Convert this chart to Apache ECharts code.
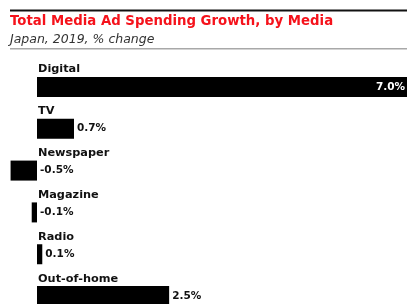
<!DOCTYPE html>
<html>
<head>
<meta charset="utf-8">
<script src="https://cdn.jsdelivr.net/npm/echarts@6/dist/echarts.min.js"></script>
<style>
  html, body { margin: 0; padding: 0; background: #fff; overflow: hidden; }
  #chart { width: 407px; height: 304px; }
</style>
</head>
<body>
<div id="chart"></div>
<script>
const categories = ['Digital', 'TV', 'Newspaper', 'Magazine', 'Radio', 'Out-of-home'];
const values = [7.0, 0.7, -0.5, -0.1, 0.1, 2.5];
const titleText = 'Total Media Ad Spending Growth, by Media';
const subtitleText = 'Japan, 2019, % change';

const maxValue = Math.max(...values);
// biggest bar carries its label inside, in white
const barData = values.map(function (v) {
    if (v === maxValue) {
        return { value: v, label: { position: 'insideRight', color: '#fff', distance: 2 } };
    }
    return v;
});

const chart = echarts.init(document.querySelector('#chart'), null, { renderer: 'canvas' });
chart.setOption({
    animation: false,
    title: {
        text: titleText,
        subtext: subtitleText,
        left: 10,
        top: 15,
        itemGap: 5,
        padding: 0,
        textStyle: {
            fontFamily: 'DejaVu Sans',
            fontSize: 13.3,
            fontWeight: 'bold',
            color: '#f5121b'
        },
        subtextStyle: {
            fontFamily: 'DejaVu Sans',
            fontSize: 12.5,
            fontStyle: 'italic',
            color: '#333'
        }
    },
    graphic: [
        { type: 'rect', shape: { x: 10, y: 9.5, width: 400, height: 2 }, style: { fill: '#111' } },
        { type: 'rect', shape: { x: 10, y: 48, width: 400, height: 1.5 }, style: { fill: '#a8a8a8' } }
    ],
    grid: { left: 0, right: 0, top: 66, height: 251, outerBoundsMode: 'none' },
    xAxis: {
        type: 'value',
        min: -0.7,
        max: 7.0,
        show: false
    },
    yAxis: {
        type: 'category',
        data: categories,
        inverse: true,
        axisLine: { show: false },
        axisTick: { show: false },
        axisLabel: {
            inside: true,
            margin: 38,
            verticalAlign: 'bottom',
            padding: [0, 0, 12, 0],
            fontFamily: 'DejaVu Sans',
            fontSize: 11.3,
            fontWeight: 'bold',
            color: '#111'
        }
    },
    series: [{
        type: 'bar',
        data: barData,
        barWidth: 20,
        itemStyle: { color: '#000' },
        label: {
            show: true,
            position: 'right',
            distance: 3,
            fontFamily: 'DejaVu Sans',
            fontSize: 10.5,
            fontWeight: 'bold',
            color: '#111',
            formatter: function (p) { return p.value.toFixed(1) + '%'; }
        }
    }]
});
</script>
</body>
</html>
